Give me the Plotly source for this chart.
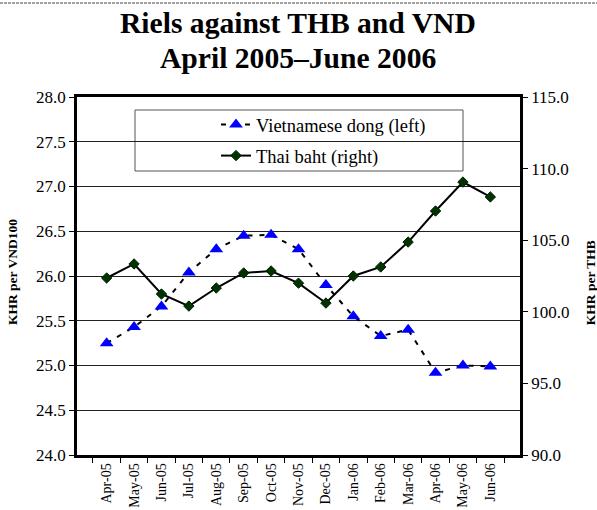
import plotly.graph_objects as go

months = ["Apr-05", "May-05", "Jun-05", "Jul-05", "Aug-05", "Sep-05", "Oct-05", "Nov-05",
          "Dec-05", "Jan-06", "Feb-06", "Mar-06", "Apr-06", "May-06", "Jun-06"]
vnd = [25.25, 25.43, 25.66, 26.04, 26.30, 26.45, 26.46, 26.30,
       25.90, 25.55, 25.33, 25.40, 24.92, 25.00, 24.99]
thb = [102.36, 103.34, 101.24, 100.40, 101.66, 102.71, 102.85, 102.00,
       100.61, 102.50, 103.13, 104.87, 107.04, 109.06, 108.02]

SERIF = "Liberation Serif"

def reg(size):
    return dict(family=SERIF, size=size, color="black", weight=400)

fig = go.Figure()
fig.add_trace(go.Scatter(
    x=months, y=vnd, name="Vietnamese dong (left)", yaxis="y", legendgroup="a",
    mode="lines+markers",
    line=dict(color="black", width=2, dash="5px,7px"),
    marker=dict(symbol="triangle-up", size=12, color="#0000FF"),
))
fig.add_trace(go.Scatter(
    x=months, y=thb, name="Thai baht (right)", yaxis="y2", legendgroup="b",
    mode="lines+markers",
    line=dict(color="black", width=2),
    marker=dict(symbol="diamond", size=8, color="#003300", line=dict(color="#002200", width=1)),
))

fig.update_layout(
    width=597, height=510,
    margin=dict(l=77, r=77, t=97, b=55, autoexpand=False),
    paper_bgcolor="white", plot_bgcolor="white",
    font=reg(14),
    xaxis=dict(type="category", categoryorder="array", categoryarray=months,
               tickson="boundaries", ticks="outside", ticklen=5, tickcolor="black",
               tickangle=-90, tickfont=reg(14), automargin=False,
               showgrid=False, showline=True, linecolor="black", linewidth=2.5, mirror=True),
    yaxis=dict(range=[24, 28], dtick=0.5, tickformat=".1f", automargin=False,
               tickfont=reg(17),
               ticks="outside", ticklen=5, tickcolor="black",
               showgrid=True, gridcolor="#222", gridwidth=1, zeroline=False,
               showline=True, linecolor="black", linewidth=2.5),
    yaxis2=dict(range=[90, 115], dtick=5, tickformat=".1f", overlaying="y", side="right",
                automargin=False, tickfont=reg(17),
                ticks="outside", ticklen=5, tickcolor="black",
                showgrid=False, zeroline=False,
                showline=True, linecolor="black", linewidth=2.5),
    legend=dict(x=(216 - 77) / 443, y=(455 - 106) / 358, xanchor="left", yanchor="top",
                bgcolor="rgba(0,0,0,0)", borderwidth=0, tracegroupgap=4,
                font=reg(18.5)),
    showlegend=True,
)

fig.add_shape(type="rect", xref="paper", yref="paper",
              x0=(135 - 77) / 443, x1=(463 - 77) / 443,
              y0=(455 - 171) / 358, y1=(455 - 110) / 358,
              fillcolor="white", line=dict(color="#555", width=1), layer="between")
fig.add_shape(type="line", xref="paper", yref="paper",
              x0=-77 / 443, x1=520 / 443, y0=(455 - 3) / 358, y1=(455 - 3) / 358,
              line=dict(color="#444", width=1, dash="3px,1px"))

fig.add_annotation(text="<b>Riels against THB and VND</b>", xref="paper", yref="paper",
                   x=(298 - 77) / 443, y=(455 - 23) / 358, xanchor="center", yanchor="middle",
                   showarrow=False, font=dict(family=SERIF, size=29.6, color="black"))
fig.add_annotation(text="<b>April 2005\u2013June 2006</b>", xref="paper", yref="paper",
                   x=(298 - 77) / 443, y=(455 - 58) / 358, xanchor="center", yanchor="middle",
                   showarrow=False, font=dict(family=SERIF, size=29.6, color="black"))

fig.add_annotation(text="<b>KHR per VND100</b>", xref="paper", yref="paper",
                   x=(12 - 77) / 443, y=0.511, xanchor="center", yanchor="middle",
                   textangle=-90, showarrow=False, font=dict(family=SERIF, size=13.5, color="black"))
fig.add_annotation(text="<b>KHR per THB</b>", xref="paper", yref="paper",
                   x=(590 - 77) / 443, y=0.48, xanchor="center", yanchor="middle",
                   textangle=-90, showarrow=False, font=dict(family=SERIF, size=13.5, color="black"))

fig.write_html("out.html", config={"displayModeBar": False},
               post_script="document.body.style.margin='0';document.body.style.padding='0';")
